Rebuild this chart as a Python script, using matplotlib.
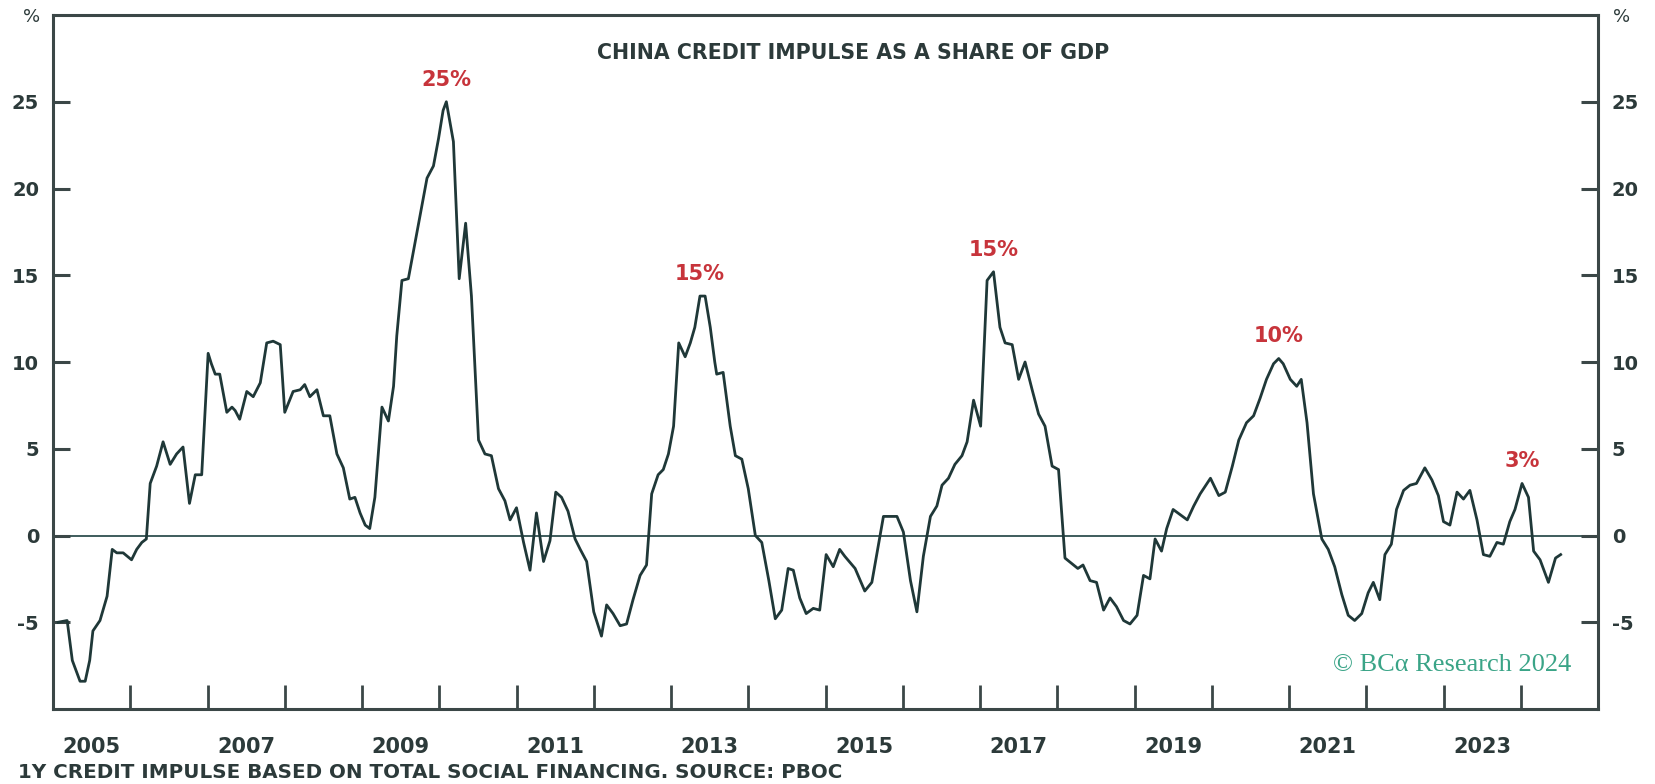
import numpy as np
import matplotlib
matplotlib.use("Agg")
import matplotlib.pyplot as plt
from matplotlib.ticker import FixedLocator, NullFormatter, FixedFormatter

# months elapsed since Jan 2005 (vertices) and impulse in % of GDP
months = [
    0.8, 2.2, 3.0, 4.2, 5.0, 5.7, 6.2, 7.3, 8.4, 9.2, 9.9, 10.9, 12.2, 13.0, 13.8, 14.5,
    15.1, 16.1, 17.1, 18.2, 19.2, 20.2, 21.2, 22.1, 23.1, 24.1, 24.6, 25.2, 25.9, 27.0,
    27.8, 28.3, 29.0, 30.1, 31.1, 32.2, 33.2, 34.2, 35.3, 36.0, 37.3, 38.4, 39.1, 39.9,
    41.0, 42.0, 43.0, 44.1, 45.1, 46.1, 46.9, 47.7, 48.5, 49.2, 50.0, 51.1, 52.1, 52.9,
    53.4, 54.2, 55.2, 56.5, 58.1, 59.1, 59.9, 60.6, 61.1, 62.2, 63.1, 64.1, 65.0, 66.1,
    67.1, 68.1, 69.2, 70.2, 71.0, 72.0, 73.1, 74.1, 75.1, 76.2, 77.2, 78.1, 79.0, 80.0,
    81.1, 81.9, 82.9, 84.0, 85.2, 86.0, 87.0, 88.1, 89.1, 90.1, 91.2, 92.2, 93.0, 94.0,
    94.8, 95.6, 96.4, 97.2, 98.2, 99.0, 99.7, 100.5, 101.3, 102.1, 102.8, 103.1, 104.1,
    105.2, 106.0, 107.0, 108.0, 109.1, 110.1, 111.2, 112.2, 113.2, 114.2, 115.0, 116.0,
    117.0, 118.1, 119.1, 120.1, 121.2, 122.2, 123.0, 124.6, 126.1, 127.2, 129.0, 131.1,
    132.1, 133.2, 134.2, 135.2, 136.3, 137.3, 138.1, 139.1, 140.1, 141.2, 142.0, 143.0,
    144.1, 145.1, 146.1, 147.1, 147.9, 149.0, 150.0, 151.0, 152.1, 153.1, 154.1, 155.2,
    156.2, 157.2, 158.2, 159.2, 160.0, 161.1, 162.1, 163.2, 164.2, 165.2, 166.3, 167.3,
    168.4, 169.4, 170.4, 171.2, 172.2, 173.0, 174.0, 175.1, 176.2, 177.2, 178.2, 179.8,
    181.1, 182.1, 183.2, 184.2, 185.4, 186.5, 187.5, 188.5, 189.6, 190.4, 191.1, 192.2,
    193.2, 193.9, 194.8, 195.8, 197.1, 198.1, 199.1, 200.2, 201.2, 202.2, 203.3, 204.3,
    205.1, 206.1, 206.9, 207.9, 208.7, 209.8, 210.8, 211.8, 213.1, 214.2, 215.2, 216.0,
    217.0, 218.1, 219.1, 220.1, 221.2, 222.2, 223.2, 224.3, 225.3, 226.3, 227.1, 228.2,
    229.2, 230.0, 231.0, 232.3, 233.4, 234.2,
]
impulse = [
    -5.0, -4.9, -7.2, -8.4, -8.4, -7.2, -5.5, -4.9, -3.5, -0.8, -1.0, -1.0, -1.4, -0.8, -0.4, -0.2,
    3.0, 4.0, 5.4, 4.1, 4.7, 5.1, 1.85, 3.5, 3.5, 10.5, 9.9, 9.3, 9.3, 7.1,
    7.4, 7.2, 6.7, 8.3, 8.0, 8.8, 11.1, 11.2, 11.0, 7.1, 8.3, 8.4, 8.7, 8.0,
    8.4, 6.9, 6.9, 4.7, 3.9, 2.1, 2.2, 1.3, 0.6, 0.4, 2.2, 7.4, 6.6, 8.6,
    11.5, 14.7, 14.8, 17.4, 20.6, 21.3, 22.9, 24.5, 25.0, 22.7, 14.8, 18.0, 13.8, 5.5,
    4.7, 4.6, 2.7, 2.0, 0.9, 1.6, -0.4, -2.0, 1.3, -1.5, -0.3, 2.5, 2.2, 1.4,
    -0.2, -0.8, -1.5, -4.4, -5.8, -4.0, -4.5, -5.2, -5.1, -3.7, -2.3, -1.7, 2.4, 3.5,
    3.8, 4.7, 6.3, 11.1, 10.3, 11.1, 12.0, 13.8, 13.8, 12.0, 10.0, 9.3, 9.4,
    6.3, 4.6, 4.4, 2.7, 0.0, -0.4, -2.6, -4.8, -4.3, -1.9, -2.0, -3.6,
    -4.5, -4.2, -4.3, -1.1, -1.8, -0.8, -1.2, -1.9, -3.2, -2.7, 1.1, 1.1,
    0.2, -2.6, -4.4, -1.2, 1.1, 1.7, 2.9, 3.3, 4.1, 4.6, 5.4, 7.8,
    6.3, 14.7, 15.2, 12.0, 11.1, 11.0, 9.0, 10.0, 8.4, 7.0, 6.3, 4.0,
    3.8, -1.3, -1.6, -1.9, -1.7, -2.6, -2.7, -4.3, -3.6, -4.1, -4.9, -5.1,
    -4.6, -2.3, -2.5, -0.2, -0.9, 0.4, 1.5, 1.2, 0.9, 1.7, 2.4, 3.3,
    2.3, 2.5, 4.0, 5.5, 6.5, 6.9, 7.9, 9.0, 9.9, 10.2, 9.9, 9.0,
    8.6, 9.0, 6.5, 2.4, -0.2, -0.8, -1.8, -3.4, -4.6, -4.9, -4.5, -3.3,
    -2.7, -3.7, -1.1, -0.5, 1.5, 2.6, 2.9, 3.0, 3.9, 3.2, 2.3, 0.8,
    0.6, 2.5, 2.1, 2.6, 0.9, -1.1, -1.2, -0.4, -0.5, 0.8, 1.5, 3.0,
    2.2, -0.9, -1.4, -2.7, -1.3, -1.1,
]

# peak call-outs: label, approx month of the peak
peak_labels = ["25%", "15%", "15%", "10%", "3%"]
peak_months = [61, 101, 146, 190, 228]

year_ticks = list(range(2006, 2025))
year_labels = [str(y) for y in range(2005, 2024, 2)]

TXT = "#2c3a3a"
LINE = "#1f3838"
RED = "#c7343b"
TEAL = "#3aa487"

plt.rcParams["font.family"] = ["DejaVu Sans"]
plt.rcParams["axes.unicode_minus"] = False

fig = plt.figure(figsize=(16.56, 7.84), dpi=100)
ax = fig.add_axes([53 / 1656, 1 - 709 / 784, (1598 - 53) / 1656, (709 - 15) / 784])

x = 2005 + np.array(months) / 12.0
ax.axhline(0, color="#2f4f4f", lw=1.3, zorder=1)
ax.plot(x, impulse, color=LINE, lw=2.0, zorder=3)

ax.set_xlim(2005, 2025)
ax.set_ylim(-10, 30)

for s in ax.spines.values():
    s.set_color("#3b4747")
    s.set_linewidth(2.2)

# y axis labelled on both sides, ticks pointing inwards
ax.set_yticks([-5, 0, 5, 10, 15, 20, 25])
ax.tick_params(axis="y", which="major", direction="in", length=12, width=2.2,
               color="#3b4747", left=True, right=True, labelleft=True, labelright=True,
               labelsize=14, labelcolor=TXT, pad=10)
for t in ax.yaxis.majorTicks:
    t.label1.set_fontweight("bold")
    t.label2.set_fontweight("bold")

# x axis: ticks at each new year, labels at mid-year for odd years
ax.xaxis.set_major_locator(FixedLocator(year_ticks))
ax.xaxis.set_major_formatter(NullFormatter())
ax.xaxis.set_minor_locator(FixedLocator([int(v) + 0.5 for v in year_labels]))
ax.xaxis.set_minor_formatter(FixedFormatter(year_labels))
ax.tick_params(axis="x", which="major", direction="in", length=17, width=2.0, color="#3b4747")
ax.tick_params(axis="x", which="minor", length=0, labelsize=15, labelcolor=TXT, pad=20)
for t in ax.xaxis.get_minorticklabels():
    t.set_fontweight("bold")

fig.text(32 / 1656, 1 - 17 / 784, "%", ha="center", va="center", fontsize=13, color=TXT)
fig.text(1622 / 1656, 1 - 17 / 784, "%", ha="center", va="center", fontsize=13, color=TXT)

ax.text(0.518, 0.945, "CHINA CREDIT IMPULSE AS A SHARE OF GDP", transform=ax.transAxes,
        ha="center", va="center", fontsize=14.8, fontweight="bold", color=TXT)

for lab, pm in zip(peak_labels, peak_months):
    near = [i for i, m in enumerate(months) if abs(m - pm) <= 3]
    i_pk = max(near, key=lambda i: impulse[i])
    ax.annotate(lab, (x[i_pk], impulse[i_pk]), xytext=(0, 16), textcoords="offset points",
                ha="center", va="center", fontsize=15, fontweight="bold", color=RED)

ax.text(0.983, 0.063, "\u00a9 BC\u03b1 Research 2024", transform=ax.transAxes, ha="right",
        va="center", fontsize=19, color=TEAL, family=["Liberation Serif", "DejaVu Serif"])

fig.text(18 / 1656, 1 - 773 / 784, "1Y CREDIT IMPULSE BASED ON TOTAL SOCIAL FINANCING. SOURCE: PBOC",
         ha="left", va="center", fontsize=14.3, fontweight="bold", color=TXT)

fig.savefig("out.png", dpi=100)
